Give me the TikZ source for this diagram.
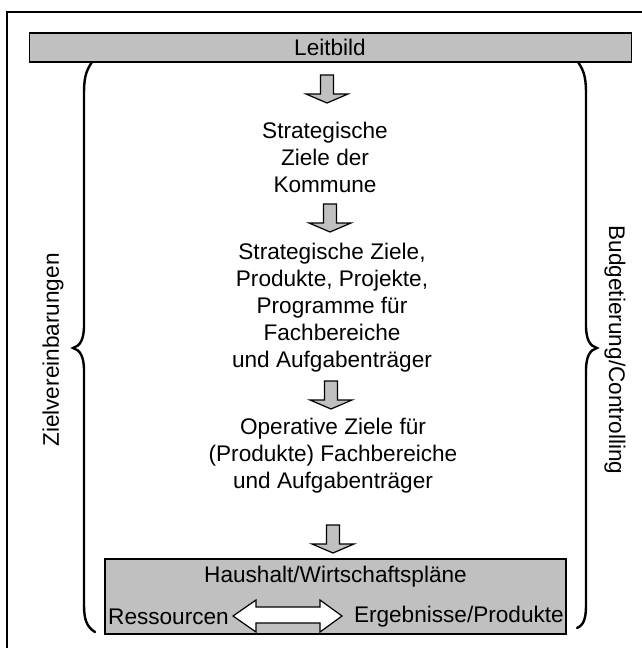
\documentclass[tikz,border=0pt]{standalone}
\usepackage{fontspec}
\setmainfont{Liberation Sans}
\definecolor{boxgray}{HTML}{C0C0C0}
\tikzset{
  txt/.style={font=\fontsize{22.6}{27}\selectfont, inner sep=0pt},
  bar/.style={draw, fill=boxgray, line width=1.4pt},
  bracestyle/.style={line width=2.4pt, line cap=round},
  blockarrow/.pic={\draw[fill=boxgray, line width=1.2pt, line join=miter]
     (-6.5,0) -- (6.5,0) -- (6.5,19) -- (21,19) -- (0,28) -- (-21,19) -- (-6.5,19) -- cycle;},
}
\begin{document}
\begin{tikzpicture}[x=1pt,y=-1pt]
\useasboundingbox (0,0) rectangle (641,648);
% outer frame
\draw[line width=1.8pt] (7,12) rectangle (660,670);
% Leitbild bar
\node[bar, minimum width=602pt, minimum height=29pt, inner sep=0pt] (leit) at (330.5,47.5) {};
\node[txt] (leittxt) at (330,47.5) {Leitbild};
% down arrows
\pic at (327,75) {blockarrow};
\pic at (330,204) {blockarrow};
\pic at (331,381) {blockarrow};
\pic at (333,525) {blockarrow};
% text blocks
\node[txt, align=center] (s1) at (325,157) {Strategische\\Ziele der\\Kommune};
\node[txt, align=center] (s2) at (332,308) {Strategische Ziele,\\Produkte, Projekte,\\Programme für\\Fachbereiche\\und Aufgabenträger};
\node[txt, align=center] (s3) at (333,456) {Operative Ziele für\\(Produkte) Fachbereiche\\und Aufgabenträger};
% bottom box
\node[bar, minimum width=461pt, minimum height=75pt, inner sep=0pt] (hh) at (335.5,596.5) {};
\node[txt] (hhtxt) at (335.5,577) {Haushalt/Wirtschaftspläne};
\node[txt, anchor=west] (res) at (108,617) {Ressourcen};
\node[txt, anchor=east] (erg) at (564,617) {Ergebnisse/Produkte};
\draw[fill=white, line width=1.2pt, line join=miter]
  (233,616) -- (256,600) -- (256,607) -- (320,607) -- (320,600) -- (342,616)
  -- (320,632) -- (320,623) -- (256,623) -- (256,632) -- cycle;
% braces
\draw[bracestyle] (92,62) .. controls (85,72) and (84,80) .. (84,95)
  -- (84,325) .. controls (84,340) and (80,346) .. (73,348)
  .. controls (80,350) and (84,356) .. (84,371)
  -- (84,605) .. controls (84,620) and (87,627) .. (95,632);
\draw[bracestyle] (578,62) .. controls (585,72) and (586,80) .. (586,95)
  -- (586,325) .. controls (586,340) and (590,346) .. (597,348)
  .. controls (590,350) and (586,356) .. (586,371)
  -- (586,605) .. controls (586,618) and (584,625) .. (577,628);
% side labels
\node[txt, rotate=90] (zv) at (53,350) {Zielvereinbarungen};
\node[txt, rotate=-90] (bc) at (615,350) {Budgetierung/Controlling};
\end{tikzpicture}
\end{document}
